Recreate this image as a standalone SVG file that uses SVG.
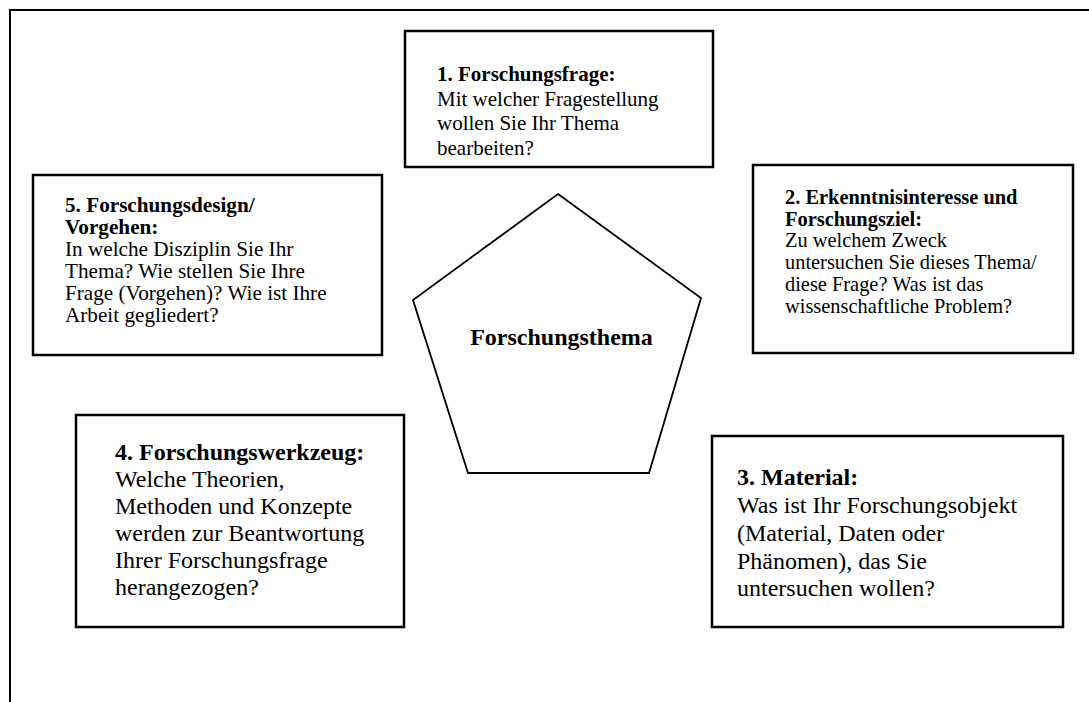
<svg xmlns="http://www.w3.org/2000/svg" width="1089" height="702" viewBox="0 0 1089 702">
<style>
.frame{fill:none;stroke:#000;stroke-width:2}
.box{fill:#fff;stroke:#000;stroke-width:2.5}
.pent{fill:#fff;stroke:#000;stroke-width:1.8}
text{font-family:"Liberation Serif","Times New Roman",serif;fill:#000}
.b{font-weight:bold}
.s21{font-size:21px}
.s20{font-size:20.4px}
.s5{font-size:21.2px}
.s24{font-size:24px}
</style>
<rect width="1089" height="702" fill="#fff"/>
<rect class="frame" x="10" y="10" width="1100" height="720"/>
<g id="node-thema">
<polygon class="pent" points="558,194 701,298 649,473 468,473 413,300"/>
<text class="b s24" x="561.5" y="345" text-anchor="middle">Forschungsthema</text>
</g>
<g id="node-1">
<rect class="box" x="405" y="31" width="308" height="136"/>
<text class="s21"><tspan class="b" x="437" y="81">1. Forschungsfrage:</tspan><tspan x="437" y="105.5">Mit welcher Fragestellung</tspan><tspan x="437" y="130">wollen Sie Ihr Thema</tspan><tspan x="437" y="154.5">bearbeiten?</tspan></text>
</g>
<g id="node-2">
<rect class="box" x="753" y="165" width="320" height="188"/>
<text class="s20"><tspan class="b" x="785" y="204">2. Erkenntnisinteresse und</tspan><tspan class="b" x="785" y="225.7">Forschungsziel:</tspan><tspan x="785" y="247.4">Zu welchem Zweck</tspan><tspan x="785" y="269.1">untersuchen Sie dieses Thema/</tspan><tspan x="785" y="290.8">diese Frage? Was ist das</tspan><tspan x="785" y="312.5">wissenschaftliche Problem?</tspan></text>
</g>
<g id="node-3">
<rect class="box" x="712" y="436" width="351" height="191"/>
<text class="s24"><tspan class="b" x="737" y="485">3. Material:</tspan><tspan x="737" y="513">Was ist Ihr Forschungsobjekt</tspan><tspan x="737" y="541">(Material, Daten oder</tspan><tspan x="737" y="568.5">Phänomen), das Sie</tspan><tspan x="737" y="596">untersuchen wollen?</tspan></text>
</g>
<g id="node-4">
<rect class="box" x="76" y="415" width="328" height="212"/>
<text class="s24"><tspan class="b" x="115" y="460">4. Forschungswerkzeug:</tspan><tspan x="115" y="487">Welche Theorien,</tspan><tspan x="115" y="514">Methoden und Konzepte</tspan><tspan x="115" y="541">werden zur Beantwortung</tspan><tspan x="115" y="568">Ihrer Forschungsfrage</tspan><tspan x="115" y="595">herangezogen?</tspan></text>
</g>
<g id="node-5">
<rect class="box" x="33" y="175" width="349" height="180"/>
<text class="s5"><tspan class="b" x="65" y="212">5. Forschungsdesign/</tspan><tspan class="b" x="65" y="234">Vorgehen:</tspan><tspan x="65" y="256">In welche Disziplin Sie Ihr</tspan><tspan x="65" y="278">Thema? Wie stellen Sie Ihre</tspan><tspan x="65" y="300">Frage (Vorgehen)? Wie ist Ihre</tspan><tspan x="65" y="322">Arbeit gegliedert?</tspan></text>
</g>
<g id="connectors"></g>
</svg>
